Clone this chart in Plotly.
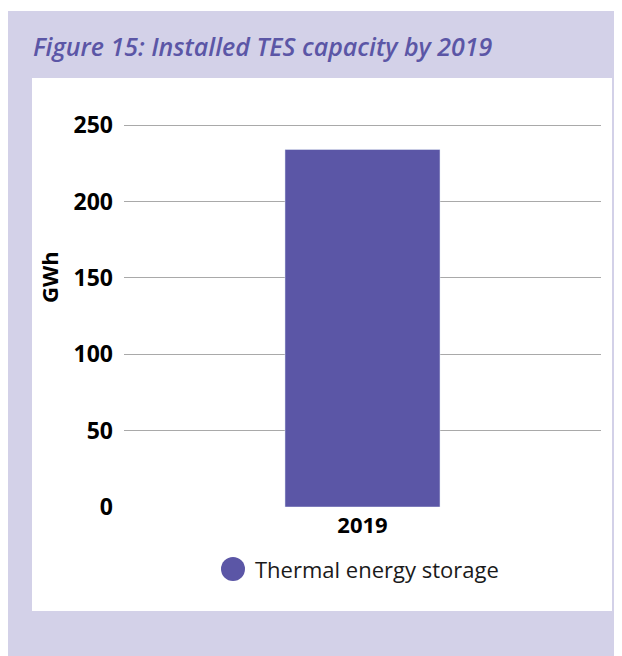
import plotly.graph_objects as go

# datos del gráfico
categorias = ["2019"]
capacidad_gwh = [234]
serie = "Thermal energy storage"
titulo = "Figure 15: Installed TES capacity by 2019"
ticks_y = [0, 50, 100, 150, 200, 250]

# la página añade 8px de margen, así que la figura es algo más pequeña que la ventana
OFF = 8
W, H = 614, 648
ML, MR, MT, MB = 116, 21, 114, 149
PW, PH = W - ML - MR, H - MT - MB

morado = "#5b56a6"
lavanda = "#d3d1e8"


# convertimos píxeles de la imagen de referencia a coordenadas "paper"
def px_x(px):
    return (px - OFF - ML) / PW


def px_y(py):
    return (H - MB - (py - OFF)) / PH


fig = go.Figure()
fig.add_trace(go.Bar(x=categorias, y=capacidad_gwh, marker_color=morado,
                     width=0.325, showlegend=False))

fig.update_layout(
    width=W, height=H,
    margin=dict(l=ML, r=MR, t=MT, b=MB),
    paper_bgcolor=lavanda,
    plot_bgcolor="white",
    font=dict(family="Open Sans", color="black"),
    xaxis=dict(showgrid=False, showline=False, ticks="",
               tickfont=dict(size=22, weight="bold"), ticklabelstandoff=3),
    yaxis=dict(range=[0, 252], tickvals=ticks_y, showgrid=True, gridcolor="#a9a9a9",
               gridwidth=1, zeroline=False, showline=False,
               tickfont=dict(size=23, weight="bold"), ticklabelstandoff=10),
    shapes=[
        # franja superior blanca sobre el panel lavanda
        dict(type="rect", xref="paper", yref="paper", layer="below",
             x0=px_x(0), x1=px_x(700), y0=px_y(0), y1=px_y(11),
             fillcolor="white", line_width=0),
        # panel blanco del gráfico
        dict(type="rect", xref="paper", yref="paper", layer="below",
             x0=px_x(32), x1=px_x(612), y0=px_y(78), y1=px_y(611),
             fillcolor="white", line_width=0),
        # círculo de la leyenda
        dict(type="circle", xref="paper", yref="paper",
             x0=px_x(221), x1=px_x(245), y0=px_y(557), y1=px_y(581),
             fillcolor=morado, line_width=0),
    ],
    annotations=[
        dict(text=titulo, xref="paper", yref="paper", x=px_x(31), y=px_y(46),
             xanchor="left", yanchor="middle", showarrow=False,
             font=dict(size=25, color=morado, style="italic", weight=600)),
        dict(text="GWh", xref="paper", yref="paper", x=px_x(49), y=px_y(277),
             xanchor="center", yanchor="middle", textangle=-90, showarrow=False,
             font=dict(size=22, weight="bold")),
        dict(text=serie, xref="paper", yref="paper", x=px_x(253), y=px_y(569),
             xanchor="left", yanchor="middle", showarrow=False,
             font=dict(size=22, color="#1a1a1a")),
    ],
)

fig.write_html("out.html")
